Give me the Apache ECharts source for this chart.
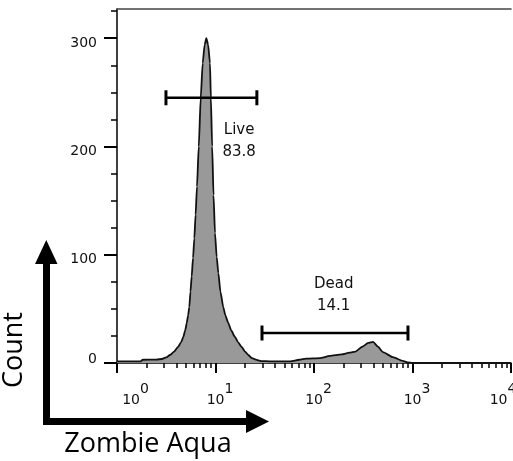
<!DOCTYPE html>
<html>
<head>
<meta charset="utf-8">
<script src="https://cdn.jsdelivr.net/npm/echarts@6/dist/echarts.min.js"></script>
<style>html,body{margin:0;padding:0;background:#fff}#c{width:513px;height:461px}</style>
</head>
<body>
<div id="c"></div>
<script>
// x positions in decades (log10 of Zombie Aqua intensity), y = count
var logIntensity = [0.00, 0.24, 0.26, 0.40, 0.457, 0.50, 0.538, 0.58, 0.619, 0.65, 0.673, 0.692, 0.708, 0.722, 0.734, 0.746, 0.758, 0.772, 0.785, 0.798, 0.812, 0.83, 0.85, 0.87, 0.89, 0.907, 0.925, 0.944, 0.953, 0.966, 0.98, 0.995, 1.012, 1.029, 1.05, 1.079, 1.10, 1.13, 1.16, 1.198, 1.23, 1.266, 1.30, 1.333, 1.37, 1.418, 1.47, 1.55, 1.76, 1.85, 1.92, 2.06, 2.16, 2.28, 2.36, 2.42, 2.49, 2.55, 2.60, 2.65, 2.70, 2.80, 2.90, 2.95, 3.00, 4.00];
var counts = [1.5, 1.5, 3, 3.2, 3.7, 5.2, 7.4, 10.5, 14.8, 19, 24, 30, 36.9, 44, 51.7, 66, 80, 97, 115, 137, 163, 200, 245, 277, 294, 300, 294, 277, 245, 200, 155, 120, 98, 83, 66, 51.7, 44, 36.9, 30, 24, 19, 14.8, 10.5, 7.4, 4.5, 2.8, 1.8, 1.5, 1.5, 3, 4, 4.5, 6.5, 8, 9.5, 10.5, 15, 18.5, 19.5, 15, 10, 5.5, 2, 0.5, 0, 0];

// gates
var gateNames = ['Live', 'Dead'];
var gatePercents = ['83.8', '14.1'];
var gateStart = [0.497, 1.472];
var gateEnd = [1.42, 2.954];
var gateLevel = [245, 27.7];
var gateLabelX = [1.24, 2.2];
var gateLabelY = [205, 63];

// ticks
var xDecades = [0, 1, 2, 3, 4];
var minorMultipliers = [2, 3, 4, 5, 6, 7, 8, 9];
var yMajorTicks = [0, 100, 200, 300];
var yMinorTicks = [25, 50, 75, 125, 150, 175, 225, 250, 275, 325];
var yMax = 327;

var xMinorTicks = [];
xDecades.slice(0, 4).forEach(function (d) {
  minorMultipliers.forEach(function (m) { xMinorTicks.push(d + Math.log10(m)); });
});

var histData = logIntensity.map(function (x, i) { return [x, counts[i]]; });
var gateData = gateNames.map(function (n, i) {
  return [gateStart[i], gateEnd[i], gateLevel[i], gateLabelX[i], gateLabelY[i], i];
});

var FONT = 'DejaVu Sans';
var TXT = '#111';
var chart = echarts.init(document.getElementById('c'), null, {renderer: 'canvas'});
chart.setOption({
  animation: false,
  backgroundColor: '#fff',
  grid: {left: 117, right: 2, top: 9, bottom: 98, containLabel: false, outerBoundsMode: 'none'},
  xAxis: [
    {
      type: 'value', min: 0, max: 4, interval: 1, position: 'bottom',
      axisLine: {show: true, onZero: false, lineStyle: {color: '#000', width: 1.5}},
      axisTick: {show: true, length: 10, lineStyle: {color: '#000', width: 2}},
      splitLine: {show: false},
      axisLabel: {
        margin: 19, hideOverlap: false,
        formatter: function (v) {
          if (v === 0) return '{b0|10}{e|' + v + '}';
          if (v === 4) return '{b|10}{e4|' + v + '}';
          return '{b|10}{e|' + v + '}';
        },
        rich: {
          b: {fontFamily: FONT, fontSize: 14, color: TXT, lineHeight: 25, verticalAlign: 'bottom', padding: [0, 0, 0, 9]},
          b0: {fontFamily: FONT, fontSize: 14, color: TXT, lineHeight: 25, verticalAlign: 'bottom', padding: [0, 0, 0, 37]},
          e: {fontFamily: FONT, fontSize: 14, color: TXT, lineHeight: 14, verticalAlign: 'top'},
          e4: {fontFamily: FONT, fontSize: 14, color: TXT, lineHeight: 14, verticalAlign: 'top', padding: [0, 25, 0, 0]}
        }
      }
    },
    {
      type: 'value', min: 0, max: 4, position: 'bottom',
      axisLine: {show: false},
      axisTick: {show: true, length: 5, customValues: xMinorTicks, lineStyle: {color: '#000', width: 1.5}},
      axisLabel: {show: false},
      splitLine: {show: false}
    },
    {
      type: 'value', min: 0, max: 4, position: 'top',
      axisLine: {show: true, onZero: false, lineStyle: {color: '#444', width: 1.5}},
      axisTick: {show: false}, axisLabel: {show: false}, splitLine: {show: false}
    }
  ],
  yAxis: [
    {
      type: 'value', min: 0, max: yMax, position: 'left',
      axisLine: {show: true, onZero: false, lineStyle: {color: '#000', width: 1.5}},
      axisTick: {show: true, length: 13, customValues: yMajorTicks, lineStyle: {color: '#000', width: 2}},
      splitLine: {show: false},
      axisLabel: {
        customValues: yMajorTicks, margin: 20,
        formatter: function (v) { return v === 0 ? '{z|' + v + '}' : '{n|' + v + '}'; },
        rich: {
          n: {fontFamily: FONT, fontSize: 14, color: TXT, padding: [10, 0, 0, 0]},
          z: {fontFamily: FONT, fontSize: 14, color: TXT, padding: [0, 0, 8, 0]}
        }
      }
    },
    {
      type: 'value', min: 0, max: yMax, position: 'left',
      axisLine: {show: false},
      axisTick: {show: true, length: 6, customValues: yMinorTicks, lineStyle: {color: '#000', width: 1.5}},
      axisLabel: {show: false}, splitLine: {show: false}
    }
  ],
  series: [
    {
      type: 'line', xAxisIndex: 0, yAxisIndex: 0,
      data: histData, showSymbol: false, symbol: 'none',
      smooth: 0.2, smoothMonotone: 'x',
      lineStyle: {color: '#111', width: 1.8},
      areaStyle: {color: '#999999', opacity: 1},
      z: 2
    },
    {
      type: 'custom', xAxisIndex: 0, yAxisIndex: 0,
      data: gateData,
      renderItem: function (params, api) {
        var i = api.value(5);
        var p1 = api.coord([api.value(0), api.value(2)]);
        var p2 = api.coord([api.value(1), api.value(2)]);
        var pl = api.coord([api.value(3), api.value(4)]);
        var h = 7.5;
        var ls = {stroke: '#000', lineWidth: 2.6};
        return {
          type: 'group',
          children: [
            {type: 'line', shape: {x1: p1[0], y1: p1[1], x2: p2[0], y2: p2[1]}, style: ls},
            {type: 'line', shape: {x1: p1[0], y1: p1[1] - h, x2: p1[0], y2: p1[1] + h}, style: {stroke: '#000', lineWidth: 3}},
            {type: 'line', shape: {x1: p2[0], y1: p2[1] - h, x2: p2[0], y2: p2[1] + h}, style: {stroke: '#000', lineWidth: 3}},
            {type: 'text', x: pl[0], y: pl[1], style: {
              text: gateNames[i] + '\n' + gatePercents[i],
              fill: TXT, font: '15px "' + FONT + '"', lineHeight: 22,
              align: 'center', verticalAlign: 'middle'
            }}
          ]
        };
      },
      z: 5
    }
  ],
  graphic: [
    {type: 'polyline', shape: {points: [[46.5, 262], [46.5, 421.5], [248, 421.5]]},
     style: {stroke: '#000', lineWidth: 7, fill: null, lineJoin: 'miter', lineCap: 'butt'}},
    {type: 'polygon', shape: {points: [[35, 264], [57.5, 264], [46.25, 240]]}, style: {fill: '#000'}},
    {type: 'polygon', shape: {points: [[246, 410], [246, 433], [269, 421.5]]}, style: {fill: '#000'}},
    {type: 'text', x: 14, y: 350, rotation: Math.PI / 2,
     style: {text: 'Count', font: '27px "Open Sans"', fill: '#000', align: 'center', verticalAlign: 'middle'}},
    {type: 'text', x: 148, y: 444,
     style: {text: 'Zombie Aqua', font: '27px "Open Sans"', fill: '#000', align: 'center', verticalAlign: 'middle'}}
  ]
});
</script>
</body>
</html>
